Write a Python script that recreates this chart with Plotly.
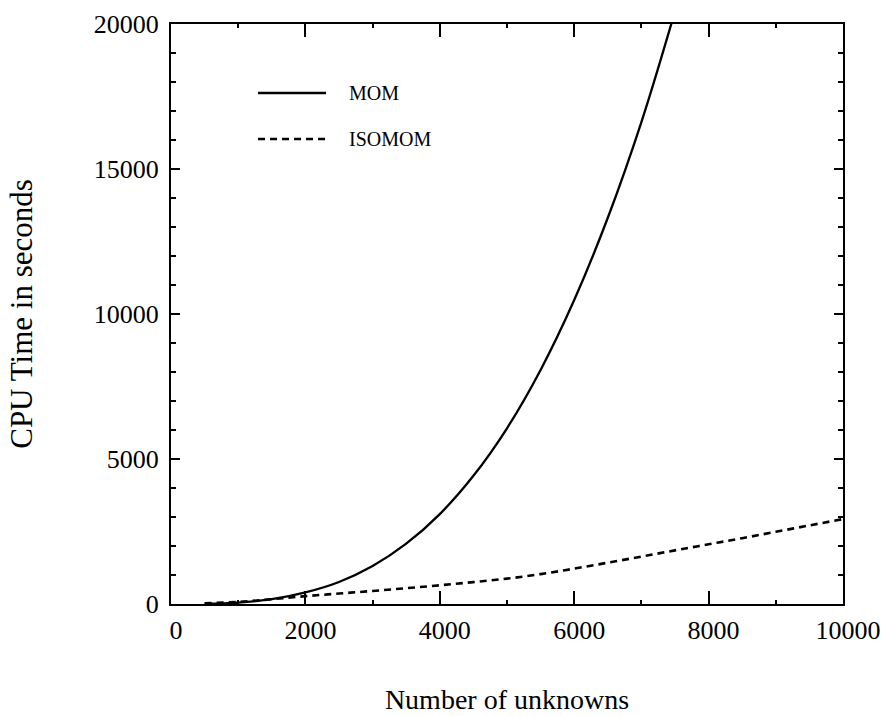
import plotly.graph_objects as go

# Problem size (number of unknowns)
unknowns = [500, 1000, 1500, 2000, 2500, 3000, 3500, 4000, 4500, 5000,
            5500, 6000, 6500, 7000, 7500, 8000, 8500, 9000, 9500, 10000]

# CPU time in seconds, conventional method of moments (rises past the top of the axis)
mom_time = [6, 48, 165, 400, 760, 1310, 2080, 3100, 4420, 6060,
            8070, 10480, 13320, 16620, 20440, None, None, None, None, None]

# CPU time in seconds, ISOMOM
isomom_time = [20, 75, 165, 270, 360, 450, 545, 645, 755, 875,
               1030, 1220, 1425, 1635, 1850, 2060, 2270, 2490, 2710, 2930]

x_ticks = [0, 2000, 4000, 6000, 8000, 10000]
x_tick_labels = ["0", "2000", "4000", "6000", "8000", "10000"]
y_ticks = [0, 5000, 10000, 15000, 20000]
y_tick_labels = ["0", "5000", "10000", "15000", "20000"]

FONT = "Liberation Serif, Times New Roman, serif"
DASH = "7px,5px"

fig = go.Figure()
fig.add_trace(go.Scatter(
    x=unknowns, y=mom_time, mode="lines", name="MOM",
    line=dict(color="black", width=2.3, shape="spline"),
    connectgaps=False, showlegend=False,
))
fig.add_trace(go.Scatter(
    x=unknowns, y=isomom_time, mode="lines", name="ISOMOM",
    line=dict(color="black", width=2.6, dash=DASH, shape="spline"),
    showlegend=False,
))

# Legend keys drawn inside the plot area (paper coordinates)
legend_items = [("MOM", "solid", 2.3, 0.881), ("ISOMOM", DASH, 2.6, 0.8017)]
for label, dash, width, ypos in legend_items:
    fig.add_shape(type="line", xref="paper", yref="paper",
                  x0=0.1295, x1=0.2307, y0=ypos, y1=ypos,
                  line=dict(color="black", width=width, dash=dash))
    fig.add_annotation(text=label, xref="paper", yref="paper", x=0.262, y=ypos,
                       xanchor="left", yanchor="middle", showarrow=False,
                       font=dict(family=FONT, size=20, color="black"))

axis_common = dict(
    showgrid=False, zeroline=False, showline=True, linecolor="black", linewidth=2,
    mirror="allticks", ticks="inside", tickcolor="black", tickwidth=2,
    tickfont=dict(family=FONT, size=26, color="black"), automargin=False,
)

fig.update_xaxes(
    range=[0, 10000], tickvals=x_ticks, ticktext=x_tick_labels, ticklen=13,
    minor=dict(dtick=1000, ticks="inside", ticklen=4, tickwidth=2, tickcolor="black"),
    title=dict(text="Number of unknowns", font=dict(family=FONT, size=28, color="black"),
               standoff=45),
    ticklabelshift=5, ticklabelstandoff=2,
    **axis_common,
)
fig.update_yaxes(
    range=[0, 20000], tickvals=y_ticks, ticktext=y_tick_labels, ticklen=9,
    minor=dict(dtick=1000, ticks="inside", ticklen=5, tickwidth=2, tickcolor="black"),
    title=dict(text="CPU Time in seconds", font=dict(family=FONT, size=31, color="black"),
               standoff=52),
    ticklabelstandoff=5,
    **axis_common,
)

fig.update_layout(
    width=881, height=716,
    margin=dict(l=171, r=38, t=24, b=112),
    plot_bgcolor="white", paper_bgcolor="white",
    showlegend=False,
)

fig.write_html("out.html")
